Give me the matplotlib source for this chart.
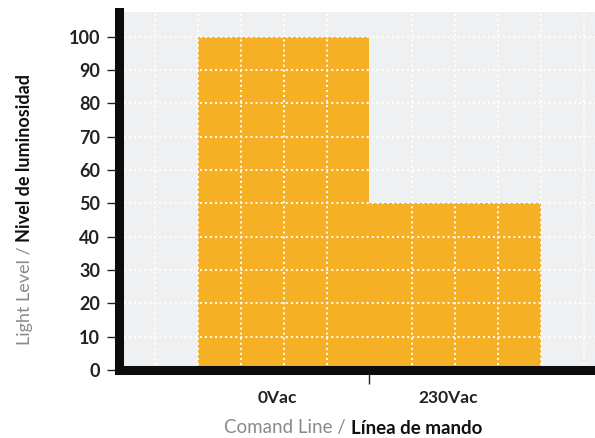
import matplotlib
matplotlib.use("Agg")
import matplotlib.pyplot as plt
import numpy as np

categories = ["0Vac", "230Vac"]
levels = [100, 50]
y_ticks = [0, 10, 20, 30, 40, 50, 60, 70, 80, 90, 100]

BAR = "#f6b026"
BG = "#eff0f2"

plt.rcParams["font.family"] = ["Lato", "DejaVu Sans"]

fig = plt.figure(figsize=(5.95, 4.38), dpi=100)
ax = fig.add_axes([0.2008, 0.155, 0.7992, 0.818])
ax.set_facecolor(BG)

x = np.arange(1, len(categories) + 1)
ax.bar(x, levels, width=1.0, color=BAR, zorder=1)

ax.set_xlim(0.042, 2.815)
ax.set_ylim(0, 107.5)

# dotted white grid over the bars
ax.set_xticks(np.arange(0.25, 2.8, 0.25), minor=True)
ax.set_yticks(y_ticks)
ax.grid(True, which="minor", axis="x", color="white", linestyle=(0, (1, 1.6)), linewidth=1.4, zorder=3)
ax.grid(True, which="major", axis="y", color="white", linestyle=(0, (1, 1.6)), linewidth=1.4, zorder=3)
ax.set_axisbelow(False)

ax.set_xticks([1.5])
ax.set_xticklabels([""])
ax.tick_params(axis="x", which="major", length=10, width=1, color="#222222")
ax.tick_params(axis="x", which="minor", length=0)
ax.tick_params(axis="y", length=9, width=1, color="#222222", labelsize=13, pad=5)
for lbl in ax.get_yticklabels():
    lbl.set_fontweight("bold")
    lbl.set_color("#222222")

for xi, name in zip(x, categories):
    ax.text(xi - 0.04, -6, name, ha="center", va="top", fontsize=12.5,
            fontweight="bold", color="#222222")

for side in ["top", "right"]:
    ax.spines[side].set_visible(False)
for side in ["left", "bottom"]:
    ax.spines[side].set_linewidth(6.5)
    ax.spines[side].set_color("#0a0c0d")
    ax.spines[side].set_zorder(5)

# two-tone axis titles
fig.text(351 / 595, 1 - 428 / 438, "Comand Line / ", ha="right", va="center",
         fontsize=13.5, color="#8a8a8a")
fig.text(351 / 595, 1 - 428 / 438, "Línea de mando", ha="left", va="center",
         fontsize=13.5, fontweight="bold", color="#111111")
fig.text(25 / 595, 1 - 242 / 438, "Light Level / ", ha="center", va="top",
         rotation=90, fontsize=13, color="#8a8a8a")
fig.text(25 / 595, 1 - 242 / 438, "Nivel de luminosidad", ha="center", va="bottom",
         rotation=90, fontsize=13, fontweight="bold", color="#111111")

fig.savefig("out.png", dpi=100)
